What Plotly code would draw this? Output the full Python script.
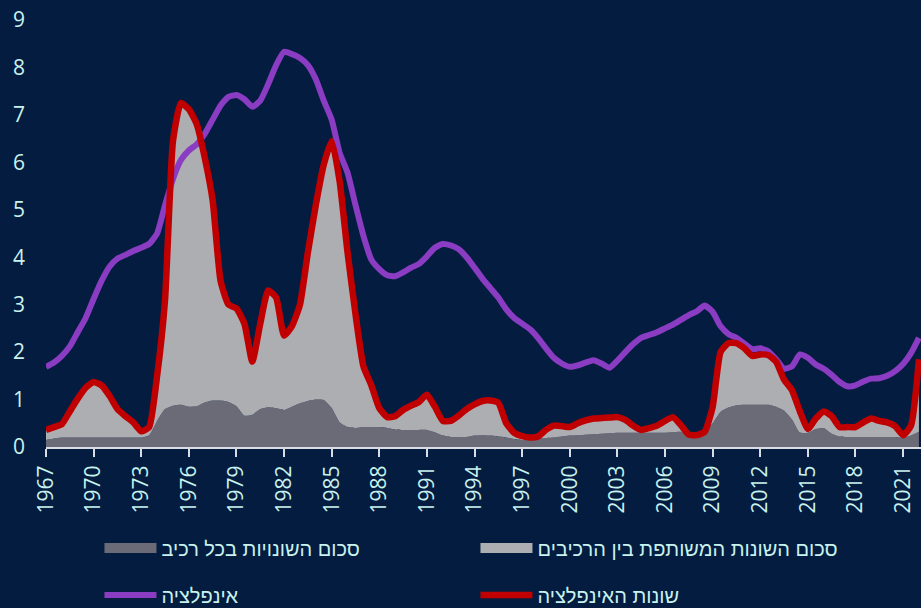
import plotly.graph_objects as go

# half-year grid, 1967.0 .. 2022.0
years = [1967 + i / 2 for i in range(111)]

# inflation (purple line)
inflation = [
    1.69, 1.78, 1.92, 2.12, 2.42, 2.72, 3.12, 3.50, 3.80, 3.97,
    4.05, 4.13, 4.20, 4.28, 4.50, 5.10, 5.65, 6.05, 6.25, 6.38,
    6.60, 6.90, 7.20, 7.38, 7.42, 7.33, 7.17, 7.30, 7.65, 8.05,
    8.33, 8.28, 8.20, 8.05, 7.75, 7.30, 6.90, 6.20, 5.78, 5.10,
    4.45, 3.95, 3.75, 3.62, 3.60, 3.68, 3.78, 3.86, 4.02, 4.20,
    4.28, 4.25, 4.17, 4.00, 3.78, 3.55, 3.35, 3.15, 2.90, 2.72,
    2.60, 2.48, 2.30, 2.08, 1.88, 1.76, 1.69, 1.72, 1.78, 1.83,
    1.76, 1.67, 1.82, 2.00, 2.17, 2.30, 2.36, 2.42, 2.50, 2.58,
    2.68, 2.78, 2.86, 2.98, 2.85, 2.55, 2.38, 2.30, 2.18, 2.06,
    2.08, 2.02, 1.85, 1.65, 1.70, 1.95, 1.88, 1.74, 1.65, 1.52,
    1.37, 1.28, 1.30, 1.38, 1.44, 1.45, 1.50, 1.60, 1.75, 1.98,
    2.30,
]

# variance of inflation (red line, light grey area reaches up to it)
inflation_var = [
    0.36, 0.42, 0.48, 0.75, 1.02, 1.25, 1.37, 1.30, 1.08, 0.80,
    0.65, 0.52, 0.33, 0.42, 1.50, 3.10, 6.45, 7.25, 7.12, 6.80,
    6.10, 5.20, 3.50, 3.00, 2.92, 2.60, 1.80, 2.60, 3.30, 3.15,
    2.35, 2.55, 3.00, 4.10, 5.10, 5.95, 6.45, 5.60, 4.10, 2.80,
    1.70, 1.30, 0.82, 0.63, 0.65, 0.78, 0.87, 0.95, 1.10, 0.85,
    0.55, 0.55, 0.66, 0.80, 0.90, 0.97, 0.98, 0.93, 0.50, 0.30,
    0.23, 0.20, 0.22, 0.36, 0.45, 0.44, 0.42, 0.50, 0.56, 0.60,
    0.61, 0.62, 0.63, 0.57, 0.45, 0.36, 0.40, 0.45, 0.55, 0.63,
    0.46, 0.26, 0.25, 0.32, 0.84, 2.00, 2.19, 2.19, 2.08, 1.92,
    1.95, 1.94, 1.80, 1.42, 1.20, 0.75, 0.38, 0.60, 0.75, 0.65,
    0.42, 0.42, 0.42, 0.52, 0.60, 0.55, 0.52, 0.44, 0.25, 0.45,
    1.85,
]

# sum of variances of each component (dark grey area)
component_var = [
    0.15, 0.18, 0.20, 0.20, 0.20, 0.20, 0.20, 0.20, 0.20, 0.20,
    0.20, 0.20, 0.20, 0.25, 0.55, 0.80, 0.87, 0.89, 0.85, 0.86,
    0.94, 0.98, 0.98, 0.95, 0.86, 0.66, 0.68, 0.80, 0.84, 0.82,
    0.78, 0.85, 0.92, 0.97, 1.00, 0.99, 0.82, 0.52, 0.42, 0.40,
    0.42, 0.42, 0.42, 0.40, 0.37, 0.36, 0.36, 0.36, 0.36, 0.31,
    0.24, 0.21, 0.21, 0.21, 0.24, 0.25, 0.24, 0.22, 0.20, 0.17,
    0.15, 0.15, 0.17, 0.19, 0.20, 0.22, 0.24, 0.25, 0.26, 0.27,
    0.28, 0.29, 0.30, 0.30, 0.30, 0.30, 0.30, 0.30, 0.30, 0.31,
    0.32, 0.24, 0.24, 0.30, 0.50, 0.74, 0.83, 0.88, 0.89, 0.89,
    0.89, 0.89, 0.85, 0.77, 0.58, 0.30, 0.30, 0.38, 0.40, 0.28,
    0.22, 0.21, 0.21, 0.21, 0.21, 0.21, 0.21, 0.21, 0.19, 0.24,
    0.32,
]

names = ["סכום השונויות בכל רכיב", "סכום השונות המשותפת בין הרכיבים",
         "אינפלציה", "שונות האינפלציה"]

BG = "#041c40"
TXT = "#c8f2ee"
DARK = "#6a6b77"
LIGHT = "#adaeb2"
PURPLE = "#8a3cc2"
RED = "#c00000"
FONT = "Open Sans, DejaVu Sans"

fig = go.Figure()
fig.add_trace(go.Scatter(x=years, y=component_var, mode="lines",
                         line=dict(width=0, shape="spline", smoothing=0.5),
                         fill="tozeroy", fillcolor=DARK, showlegend=False, hoverinfo="skip"))
fig.add_trace(go.Scatter(x=years, y=inflation_var, mode="lines",
                         line=dict(width=0, shape="spline", smoothing=0.5),
                         fill="tonexty", fillcolor=LIGHT, showlegend=False, hoverinfo="skip"))
fig.add_trace(go.Scatter(x=years, y=inflation, mode="lines", name=names[2],
                         line=dict(color=PURPLE, width=6, shape="spline", smoothing=0.5),
                         legend="legend2"))
fig.add_trace(go.Scatter(x=years, y=inflation_var, mode="lines", name=names[3],
                         line=dict(color=RED, width=6.5, shape="spline", smoothing=0.5),
                         legend="legend2"))

# legend-only entries for the two areas
for nm, col in [(names[0], DARK), (names[1], LIGHT)]:
    fig.add_trace(go.Scatter(x=[None], y=[None], mode="lines", name=nm,
                             line=dict(color=col, width=15), legend="legend"))

legfont = dict(family="Liberation Sans", size=20, color=TXT)
legcommon = dict(orientation="h", xref="container", yref="container", x=0.108, xanchor="left",
                 yanchor="middle", entrywidth=309, entrywidthmode="pixels", itemwidth=52,
                 font=legfont, bgcolor="rgba(0,0,0,0)", traceorder="normal")

fig.update_layout(
    width=921, height=608,
    paper_bgcolor=BG, plot_bgcolor=BG,
    margin=dict(l=46, r=0, t=20, b=161),
    font=dict(family=FONT, color=TXT),
    legend=dict(y=1 - 548 / 608, **legcommon),
    legend2=dict(y=1 - 595 / 608, **legcommon),
    xaxis=dict(range=[1967, 2022.13], tickvals=list(range(1967, 2022, 3)),
               tickangle=-90, tickfont=dict(size=21, color=TXT),
               showgrid=False, zeroline=False, showline=True, linecolor="#d8dde4", linewidth=2,
               ticks="outside", ticklen=8, tickwidth=2, tickcolor="#d8dde4"),
    yaxis=dict(range=[0, 9], dtick=1, tickfont=dict(size=21, color=TXT),
               showgrid=False, zeroline=False, showline=False, ticklabelstandoff=20),
)

# page body has a default 8px margin; drop it so the figure fills the window
fig.write_html("out.html", config={"displayModeBar": False},
               post_script="document.body.style.margin='0';")
